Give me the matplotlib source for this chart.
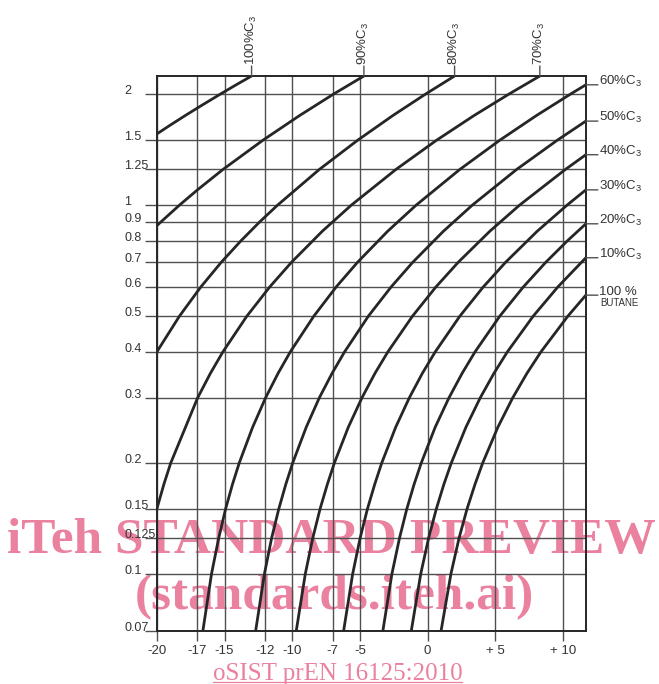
"""LPG 蒸気圧チャート（プロパン/ブタン混合）の再現"""

import matplotlib
matplotlib.use('Agg')  # GUIなし環境用
import matplotlib.pyplot as plt
from matplotlib.lines import Line2D
from matplotlib.ticker import NullLocator

plt.rcParams['font.family'] = ['Liberation Sans', 'DejaVu Sans']
plt.rcParams['mathtext.fontset'] = 'custom'
plt.rcParams['mathtext.rm'] = 'Liberation Sans'
plt.rcParams['mathtext.it'] = 'Liberation Sans:italic'
plt.rcParams['mathtext.bf'] = 'Liberation Sans:bold'

# 軸の目盛り
x_ticks = [-20, -17, -15, -12, -10, -7, -5, 0, 5, 10]
x_tick_labels = ['-20', '-17', '-15', '-12', '-10', '-7', '-5', '0', '+ 5', '+ 10']
y_ticks = [0.07, 0.1, 0.125, 0.15, 0.2, 0.3, 0.4, 0.5, 0.6, 0.7, 0.8, 0.9, 1, 1.25, 1.5, 2]
y_tick_labels = ['0.07', '0.1', '0.125', '0.15', '0.2', '0.3', '0.4', '0.5',
                 '0.6', '0.7', '0.8', '0.9', '1', '1.25', '1.5', '2']

# 曲線データ（温度 °C, 圧力）
t_c3_100 = [-20, -18.99, -17.9, -16.63, -15.31, -14.14, -13.0]
p_c3_100 = [1.56, 1.65, 1.75, 1.87, 2.0, 2.12, 2.24]

t_c3_90 = [-20, -18.33, -17.0, -15.11, -12.16, -9.45, -6.95, -4.7]
p_c3_90 = [0.88, 1.0, 1.1, 1.25, 1.5, 1.75, 2.0, 2.24]

t_c3_80 = [-20, -18.33, -16.75, -15.24, -13.79, -12.41, -11.08, -7.99, -5.16, -2.56, -0.15, 2.0]
p_c3_80 = [0.40, 0.5, 0.6, 0.7, 0.8, 0.9, 1.0, 1.25, 1.5, 1.75, 2.0, 2.24]

t_c3_70 = [-20, -19.48, -18.97, -16.99, -16.04, -15.12, -13.35, -11.66, -10.05, -7.77, -5.63,
           -2.33, 0.67, 3.44, 6.01, 8.3]
p_c3_70 = [0.15, 0.175, 0.2, 0.3, 0.35, 0.4, 0.5, 0.6, 0.7, 0.85, 1.0,
           1.25, 1.5, 1.75, 2.0, 2.24]

t_c3_60 = [-16.6, -15.96, -15.43, -14.92, -14.41, -13.91, -12.92, -11.97, -11.04, -10.14, -8.4,
           -6.75, -5.17, -2.94, -0.84, 2.39, 5.34, 8.05, 10.56, 11.7]
p_c3_60 = [0.07, 0.1, 0.125, 0.15, 0.175, 0.2, 0.25, 0.3, 0.35, 0.4, 0.5,
           0.6, 0.7, 0.85, 1.0, 1.25, 1.5, 1.75, 2.0, 2.12]

t_c3_50 = [-12.7, -12.05, -11.52, -10.99, -10.47, -9.96, -8.96, -8.0, -7.05, -6.13, -4.37,
           -2.69, -1.09, 1.18, 3.31, 6.59, 9.59, 11.7]
p_c3_50 = [0.07, 0.1, 0.125, 0.15, 0.175, 0.2, 0.25, 0.3, 0.35, 0.4, 0.5,
           0.6, 0.7, 0.85, 1.0, 1.25, 1.5, 1.69]

t_c3_40 = [-9.7, -9.03, -8.48, -7.94, -7.4, -6.88, -5.85, -4.85, -3.88, -2.93, -1.11,
           0.62, 2.27, 4.61, 6.8, 10.19, 11.7]
p_c3_40 = [0.07, 0.1, 0.125, 0.15, 0.175, 0.2, 0.25, 0.3, 0.35, 0.4, 0.5,
           0.6, 0.7, 0.85, 1.0, 1.25, 1.37]

t_c3_30 = [-6.2, -5.53, -4.98, -4.44, -3.9, -3.38, -2.35, -1.35, -0.38, 0.57, 2.39,
           4.12, 5.77, 8.11, 10.31, 11.7]
p_c3_30 = [0.07, 0.1, 0.125, 0.15, 0.175, 0.2, 0.25, 0.3, 0.35, 0.4, 0.5,
           0.6, 0.7, 0.85, 1.0, 1.10]

t_c3_20 = [-3.3, -2.63, -2.07, -1.53, -0.99, -0.46, 0.57, 1.58, 2.56, 3.51, 5.34,
           7.08, 8.74, 10.33, 11.7]
p_c3_20 = [0.07, 0.1, 0.125, 0.15, 0.175, 0.2, 0.25, 0.3, 0.35, 0.4, 0.5,
           0.6, 0.7, 0.8, 0.89]

t_c3_10 = [-1.2, -0.5, 0.08, 0.65, 1.21, 1.76, 2.84, 3.89, 4.91, 5.9, 7.81, 9.63, 11.7]
p_c3_10 = [0.07, 0.1, 0.125, 0.15, 0.175, 0.2, 0.25, 0.3, 0.35, 0.4, 0.5, 0.6, 0.72]

t_butane = [1.0, 1.73, 2.33, 2.92, 3.51, 4.08, 5.2, 6.29, 7.35, 8.38, 10.37, 11.7]
p_butane = [0.07, 0.1, 0.125, 0.15, 0.175, 0.2, 0.25, 0.3, 0.35, 0.4, 0.5, 0.57]

top_names = ['100%$\\mathrm{C}_3$', '90%$\\mathrm{C}_3$', '80%$\\mathrm{C}_3$', '70%$\\mathrm{C}_3$']
right_names = ['60%$\\mathrm{C}_3$', '50%$\\mathrm{C}_3$', '40%$\\mathrm{C}_3$', '30%$\\mathrm{C}_3$',
               '20%$\\mathrm{C}_3$', '10%$\\mathrm{C}_3$', '100 %']

top_curves = [(t_c3_100, p_c3_100), (t_c3_90, p_c3_90), (t_c3_80, p_c3_80), (t_c3_70, p_c3_70)]
right_curves = [(t_c3_60, p_c3_60), (t_c3_50, p_c3_50), (t_c3_40, p_c3_40), (t_c3_30, p_c3_30),
                (t_c3_20, p_c3_20), (t_c3_10, p_c3_10), (t_butane, p_butane)]

INK = '#262626'
GRID = '#505050'
TEXT = '#333333'
PINK = '#ea819f'

fig = plt.figure(figsize=(6.59, 6.84), dpi=100)
ax = fig.add_axes([0.238, 0.0775, 0.651, 0.8114])
ax.set_facecolor('none')

ax.set_yscale('log')
ax.set_xlim(-20, 11.7)
ax.set_ylim(0.07, 2.24)
ax.set_xticks(x_ticks, x_tick_labels)
ax.set_yticks(y_ticks)
ax.yaxis.set_minor_locator(NullLocator())
ax.tick_params(axis='y', direction='out', length=9, width=1.0, color=GRID, labelleft=False)
ax.tick_params(axis='x', direction='out', length=7, width=1.0, color=GRID,
               labelsize=9.5, labelcolor=TEXT, pad=3)
ax.grid(True, which='major', color=GRID, lw=1.0)
for s in ax.spines.values():
    s.set_color(INK)
    s.set_linewidth(1.4)

# 曲線
for t, p in top_curves + right_curves:
    ax.plot(t, p, color=INK, lw=2.0, solid_capstyle='round', solid_joinstyle='round')

# 縦軸ラベル（左寄せ、線の上）
ytrans = ax.get_yaxis_transform()
for v, s in zip(y_ticks, y_tick_labels):
    ax.text(-0.076, v, s, transform=ytrans, ha='left', va='baseline', fontsize=9, color=TEXT)

# 上側の曲線名
xtrans = ax.get_xaxis_transform()
line_style = dict(arrowstyle='-', color=GRID, lw=1.0, shrinkA=0, shrinkB=0)
for name, (t, p) in zip(top_names, top_curves):
    ax.annotate('', xy=(t[-1], 1), xycoords=xtrans, xytext=(0, 10), textcoords='offset pixels',
                arrowprops=line_style, annotation_clip=False)
    ax.annotate(name, xy=(t[-1], 1), xycoords=xtrans, xytext=(0, 11), textcoords='offset pixels',
                rotation=90, ha='center', va='bottom', fontsize=9.5, color=TEXT,
                annotation_clip=False)

# 右側の曲線名
for name, (t, p) in zip(right_names, right_curves):
    ax.annotate('', xy=(1, p[-1]), xycoords=ytrans, xytext=(12, 0), textcoords='offset pixels',
                arrowprops=line_style, annotation_clip=False)
    ax.annotate(name, xy=(1, p[-1]), xycoords=ytrans, xytext=(13, 0), textcoords='offset pixels',
                ha='left', va='baseline', fontsize=9.5, color=TEXT, annotation_clip=False)
ax.annotate('BUTANE', xy=(1, p_butane[-1]), xycoords=ytrans, xytext=(14, -11),
            textcoords='offset pixels', ha='left', va='baseline', fontsize=7, color=TEXT,
            annotation_clip=False)

# 透かし
serif = ['Liberation Serif', 'DejaVu Serif']
fig.text(0.503, 0.1915, 'iTeh STANDARD PREVIEW', ha='center', va='baseline', fontsize=37,
         fontweight='bold', family=serif, color=PINK, zorder=-1)
fig.text(0.508, 0.1096, '(standards.iteh.ai)', ha='center', va='baseline', fontsize=37,
         fontweight='bold', family=serif, color=PINK, zorder=-1)
foot = fig.text(0.512, 0.0059, 'oSIST prEN 16125:2010', ha='center', va='baseline',
                fontsize=18, family=serif, color=PINK)

# 下線
fig.canvas.draw()
bb = foot.get_window_extent()
W, H = fig.bbox.width, fig.bbox.height
y_line = 0.0059 - 2.3 / H
fig.add_artist(Line2D([bb.x0 / W, bb.x1 / W], [y_line, y_line], transform=fig.transFigure,
                      color=PINK, lw=0.9))

fig.savefig('out.png', dpi=100)
